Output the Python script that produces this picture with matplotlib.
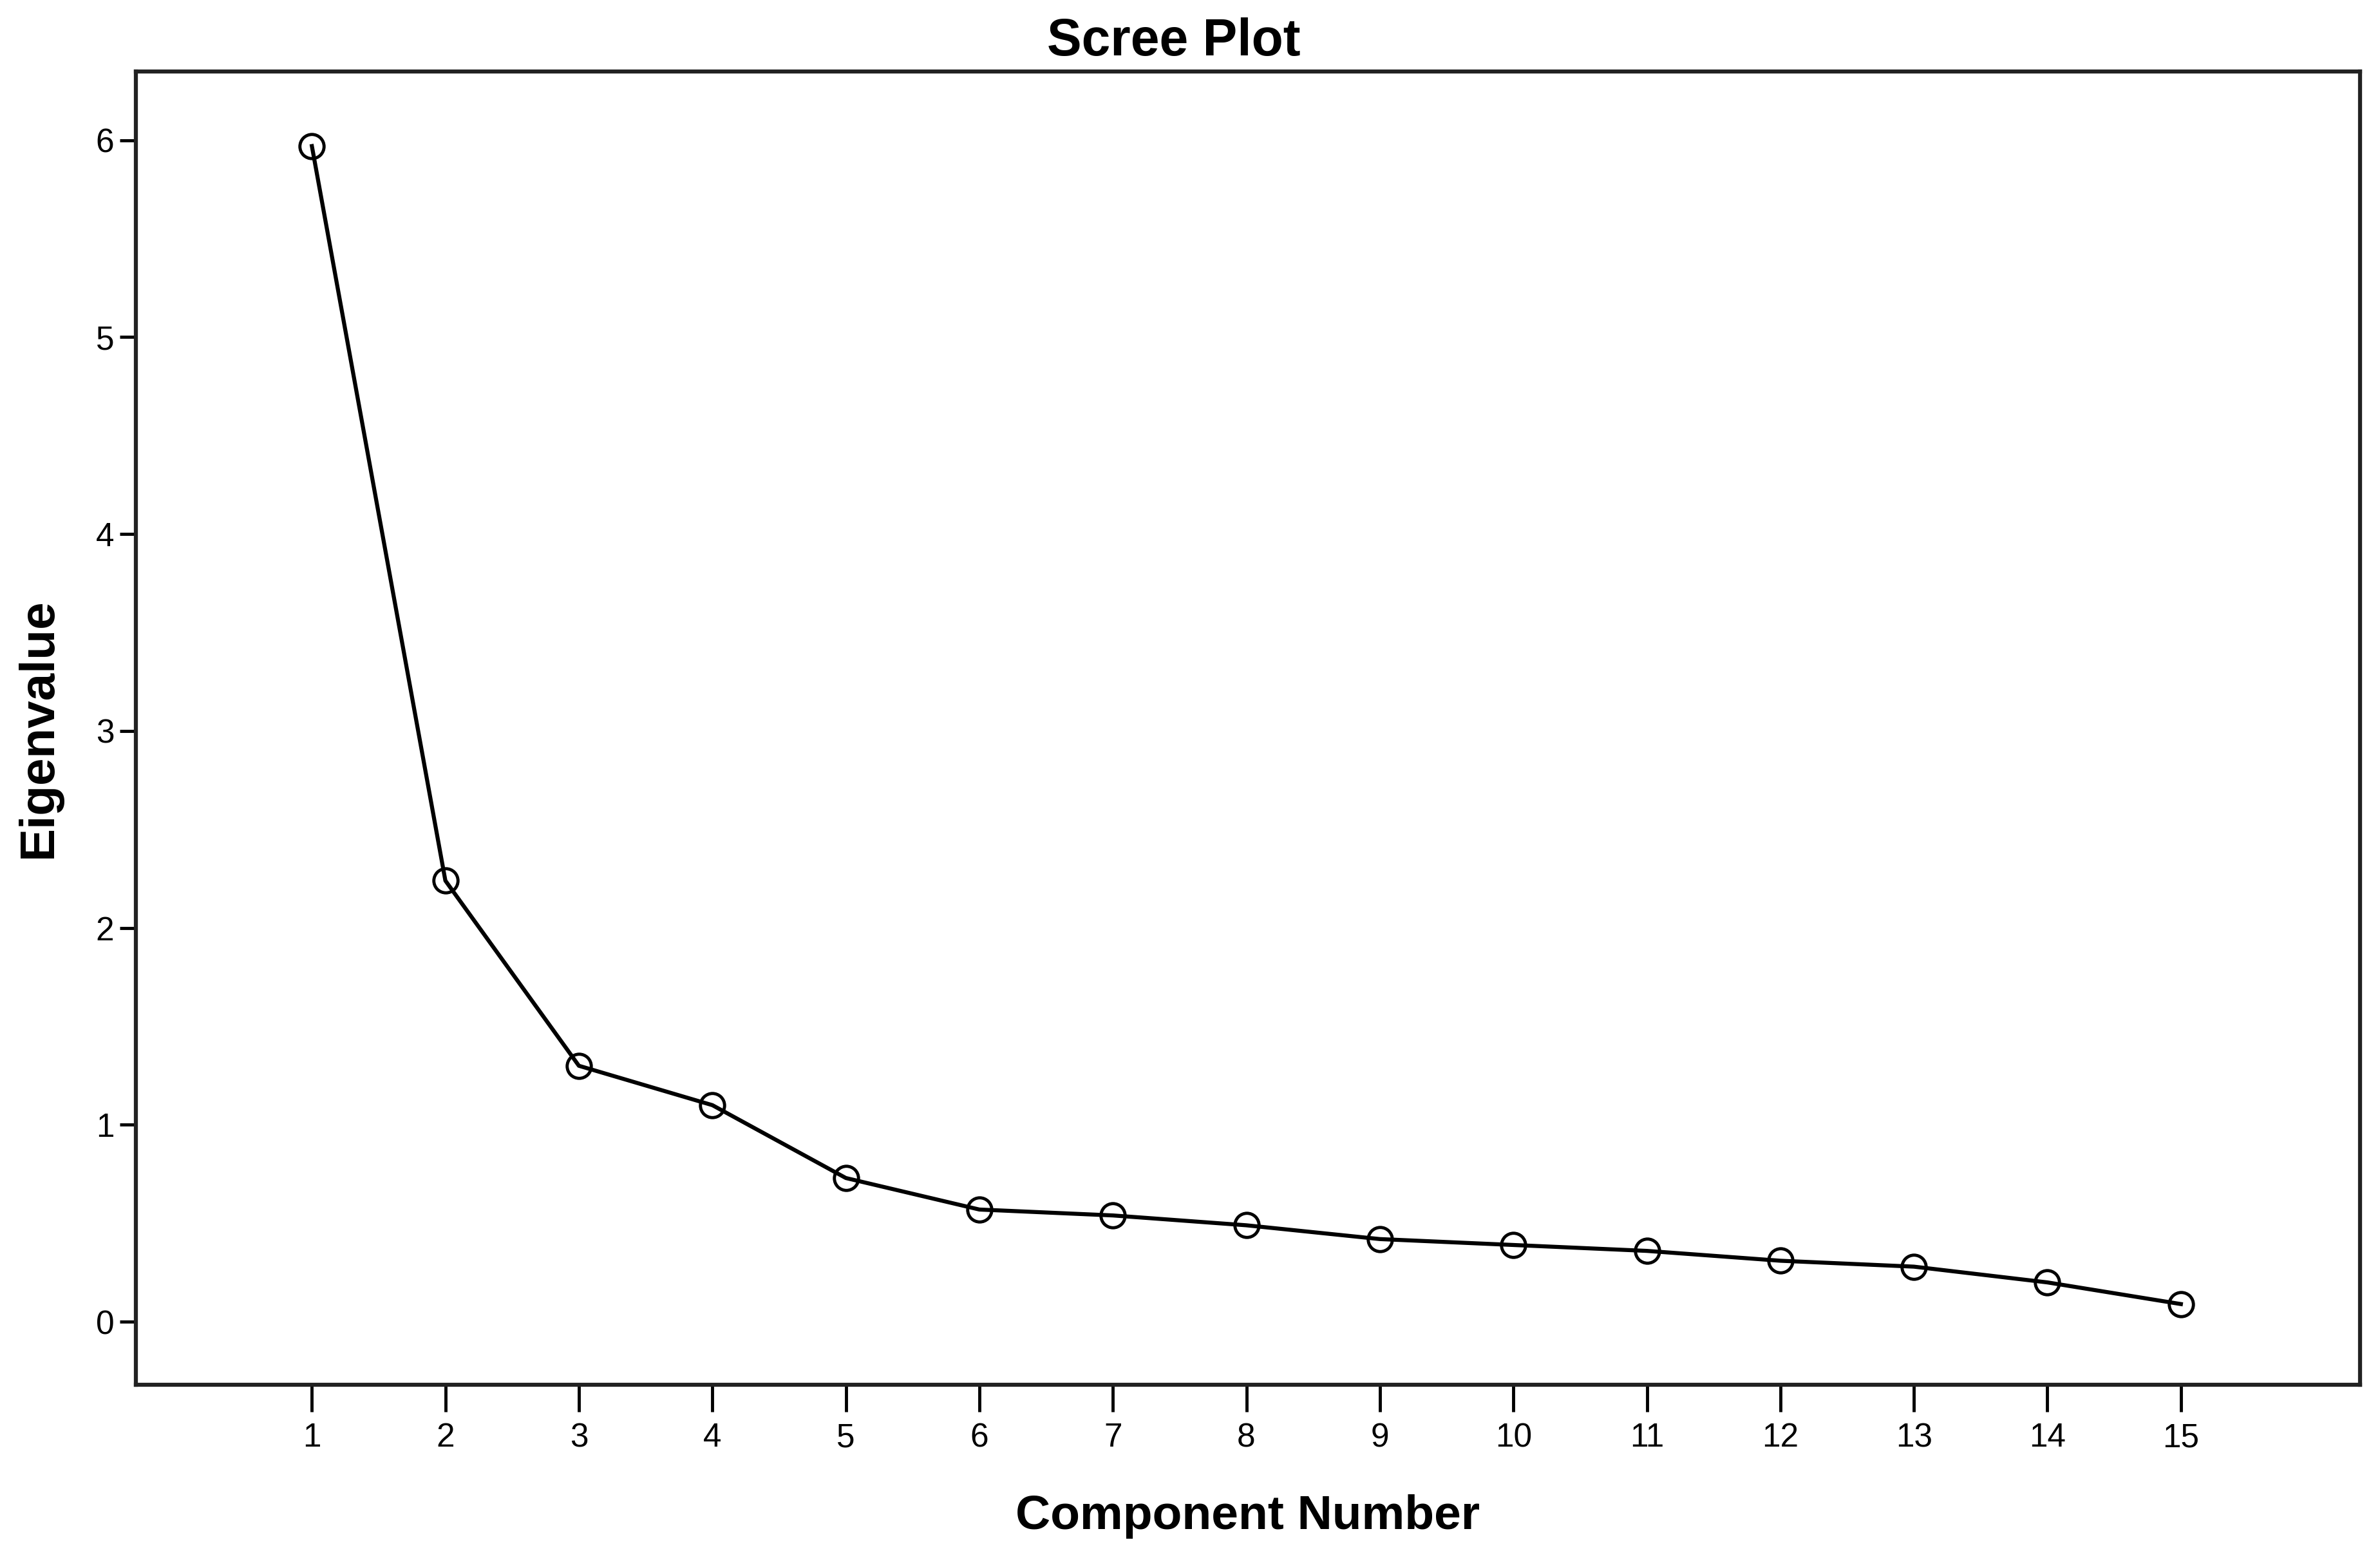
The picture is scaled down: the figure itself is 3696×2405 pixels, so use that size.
import matplotlib
matplotlib.use("Agg")
import matplotlib.pyplot as plt

# eigenvalues
components = list(range(1, 16))
eigenvalues = [5.97, 2.24, 1.30, 1.10, 0.73, 0.57, 0.54, 0.49, 0.42, 0.39, 0.36, 0.31, 0.28, 0.20, 0.09]
y_ticks = [0, 1, 2, 3, 4, 5, 6]

plt.rcParams['font.family'] = ['Liberation Sans', 'DejaVu Sans']

fig = plt.figure(figsize=(36.96, 24.05), dpi=100)
ax = fig.add_axes([0.057, 0.106, 0.9345, 0.848])

ax.plot(components, eigenvalues, color='black', linewidth=4.5,
        marker='o', markersize=27, markerfacecolor='none',
        markeredgecolor='black', markeredgewidth=3.5)

ax.set_xlim(-0.32, 16.34)
ax.set_ylim(-0.32, 6.35)
ax.set_xticks(components)
ax.set_yticks(y_ticks)

ax.tick_params(axis='x', length=30, width=3.5, labelsize=37, pad=12)
ax.tick_params(axis='y', length=18, width=3.5, labelsize=37, pad=6)
for s in ax.spines.values():
    s.set_linewidth(4.5)
    s.set_color('#222222')

# title sits a little left of the axes centre in the original
ax.set_title('Scree Plot', fontsize=58, fontweight='bold', pad=18, x=0.4666)
ax.set_xlabel('Component Number', fontsize=54, fontweight='bold', labelpad=45)
ax.set_ylabel('Eigenvalue', fontsize=55, fontweight='bold', labelpad=38)

fig.savefig('out.png', dpi=100, facecolor='white')
